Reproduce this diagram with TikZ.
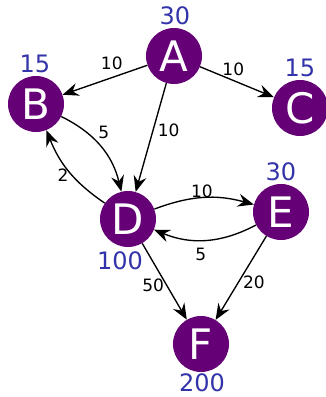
\documentclass[tikz,border=0pt]{standalone}
\usepackage{fontspec}
\setmainfont{DejaVu Sans}
\usetikzlibrary{arrows.meta}
\definecolor{nodepurple}{HTML}{660077}
\definecolor{valblue}{HTML}{3333AA}
\begin{document}
\begin{tikzpicture}[x=1pt,y=-1pt,
  vert/.style={circle,fill=nodepurple,draw=none,minimum size=56pt,inner sep=0pt,text=white,font=\fontsize{42}{42}\selectfont},
  val/.style={text=valblue,font=\fontsize{24}{24}\selectfont,inner sep=0pt,anchor=base},
  wt/.style={font=\fontsize{17}{17}\selectfont,inner sep=0pt,text=black},
  arr/.style={-{Stealth[length=16pt,width=13pt,inset=5.5pt]},line width=1.35pt,black}]
\useasboundingbox (0,0) rectangle (325,397);
\node[vert] (A) at (174,56) {A};
\node[vert] (B) at (36,104) {B};
\node[vert] (C) at (300,108) {C};
\node[vert] (D) at (128,219) {D};
\node[vert] (E) at (281,212) {E};
\node[vert] (F) at (201,344) {F};
\node[val] (vA) at (175,24.5) {30};
\node[val] (vB) at (35,72.5) {15};
\node[val] (vC) at (300,76.5) {15};
\node[val] (vE) at (281,180.5) {30};
\node[val] (vD) at (120,269.5) {100};
\node[val] (vF) at (202,391.5) {200};
\draw[arr] (A) -- node[wt,pos=0.42,above=7pt] {10} (B);
\draw[arr] (A) -- node[wt,pos=0.45,above=4pt] {10} (C);
\draw[arr] (A) -- node[wt,pos=0.43,right=4pt] {10} (D);
\draw[arr] (B) to[bend left=25] node[wt,pos=0.42,above right=2pt] {5} (D);
\draw[arr] (D) to[bend left=17] node[wt,pos=0.45,left=3pt] {2} (B);
\draw[arr] (D) to[bend left=18] node[wt,pos=0.48,above=-1pt] {10} (E);
\draw[arr] (E) to[bend left=25] node[wt,pos=0.55,below=7pt] {5} (D);
\draw[arr] (D) -- node[wt,pos=0.55,left=2pt] {50} (F);
\draw[arr] (E) -- node[wt,pos=0.55,right=4pt] {20} (F);
\end{tikzpicture}
\end{document}
